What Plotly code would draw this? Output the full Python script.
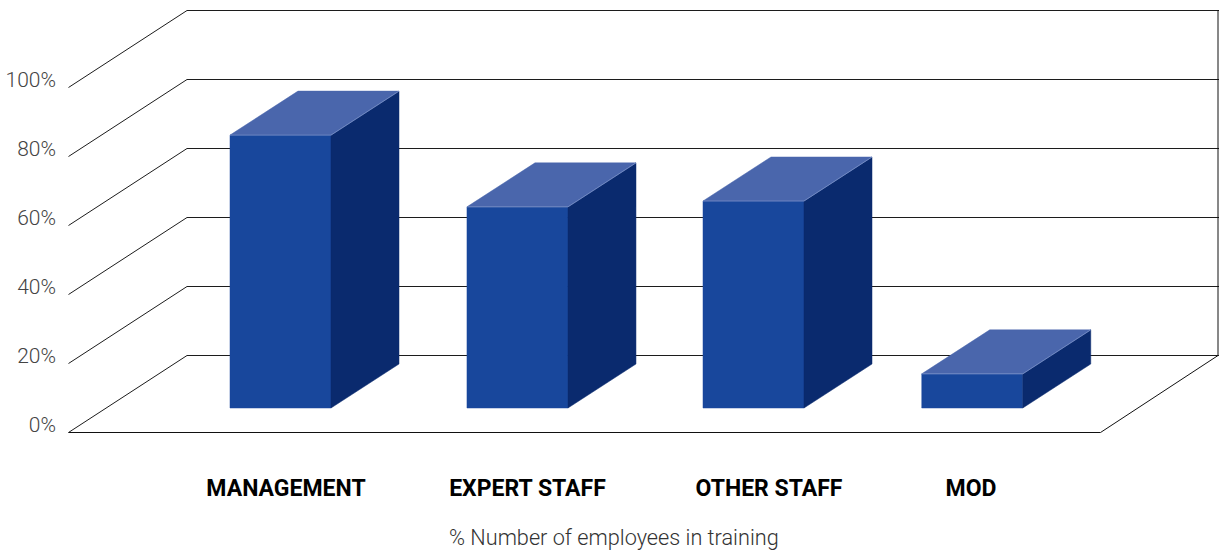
import plotly.graph_objects as go

# ---- data ----
categories = ["MANAGEMENT", "EXPERT STAFF", "OTHER STAFF", "MOD"]
values = [79.1, 58.3, 60.0, 9.9]
tick_values = [0, 20, 40, 60, 80, 100]
x_title = "% Number of employees in training"

# ---- axis scale: one x unit = one bar slot, one y unit = one percent ----
W, H = 1219, 552
PX_PER_SLOT = 236.5
PX_ORIGIN = 230.0
PX_PER_PCT = 3.45
PX_ZERO = 425.0
LEFT, BOTTOM = 57, 80


def X(px):
    return (px - PX_ORIGIN) / PX_PER_SLOT


def Y(px):
    return (PX_ZERO - px) / PX_PER_PCT


slot_pos = [0, 1.002, 2, 2.925]
label_pos = [X(286), X(527.5), X(769), X(971)]
BAR_W = 101 / PX_PER_SLOT
DEPTH_X = 68 / PX_PER_SLOT
DEPTH_Y = 44 / PX_PER_PCT
BAR_BASE = Y(408)
FRONT_LIFT = Y(432.5)      # front floor edge, relative to the label baseline
BACK_LIFT = Y(355.5)       # back floor edge

FRAME = dict(mode="lines", hoverinfo="skip", showlegend=False)
fig = go.Figure()

# walls and floor
for t in tick_values:
    xs = [X(68.5), X(187), X(1219)]
    ys = [FRONT_LIFT + t, BACK_LIFT + t, BACK_LIFT + t]
    fig.add_trace(go.Scatter(x=xs, y=ys, line=dict(color="#1c1c1c", width=1), **FRAME))
fig.add_trace(go.Scatter(
    x=[X(68.5), X(1100.5), X(1218), X(1218), X(1219)],
    y=[FRONT_LIFT, FRONT_LIFT, BACK_LIFT, BACK_LIFT + 100, BACK_LIFT + 100],
    line=dict(color="#111111", width=1), **FRAME))

# bars
FRONT, SIDE, TOP, EDGE = "#18479c", "#0a2a6e", "#4a66ac", "#7f96cc"
for s, v in zip(slot_pos, values):
    x0, x1 = s, s + BAR_W
    y0, y1 = BAR_BASE, BAR_BASE + v
    faces = [
        (FRONT, [x0, x1, x1, x0, x0], [y0, y0, y1, y1, y0]),
        (SIDE, [x1, x1 + DEPTH_X, x1 + DEPTH_X, x1, x1],
               [y0, y0 + DEPTH_Y, y1 + DEPTH_Y, y1, y0]),
        (TOP, [x0, x1, x1 + DEPTH_X, x0 + DEPTH_X, x0],
              [y1, y1, y1 + DEPTH_Y, y1 + DEPTH_Y, y1]),
    ]
    for colour, fx, fy in faces:
        fig.add_trace(go.Scatter(
            x=fx, y=fy, fill="toself", fillcolor=colour, mode="lines",
            line=dict(width=0.5, color=colour), hoverinfo="skip", showlegend=False))
    fig.add_trace(go.Scatter(
        x=[x0, x1, x1 + DEPTH_X], y=[y1, y1, y1 + DEPTH_Y],
        line=dict(color=EDGE, width=0.7), **FRAME))

x_range = [X(LEFT), X(W)]
y_range = [Y(H - BOTTOM), Y(0)]

fig.update_layout(
    width=W, height=H,
    margin=dict(l=LEFT, r=0, t=0, b=BOTTOM, autoexpand=False),
    paper_bgcolor="white", plot_bgcolor="white",
    showlegend=False,
    xaxis=dict(
        range=x_range, showgrid=False, zeroline=False, showline=False,
        tickmode="array", tickvals=label_pos, ticktext=categories, ticks="",
        tickangle=0, automargin=False,
        tickfont=dict(family="Roboto", size=23, color="#000000", weight=700),
    ),
    yaxis=dict(
        range=y_range, showgrid=False, zeroline=False, showline=False,
        tickmode="array", tickvals=tick_values, ticktext=[f"{t}%" for t in tick_values],
        ticks="", automargin=False,
        tickfont=dict(family="Roboto Light, Roboto", size=21, color="#444444"),
    ),
    annotations=[dict(
        text=x_title, x=X(613.5), y=-(537 - (H - BOTTOM)) / (H - BOTTOM),
        xref="x", yref="paper", showarrow=False,
        xanchor="center", yanchor="middle",
        font=dict(family="Roboto Light, Roboto", size=21.7, color="#333333"),
    )],
)

fig.write_html(
    "out.html",
    config={"displayModeBar": False},
    post_script="document.body.style.margin='0';document.body.style.overflow='hidden';",
)
